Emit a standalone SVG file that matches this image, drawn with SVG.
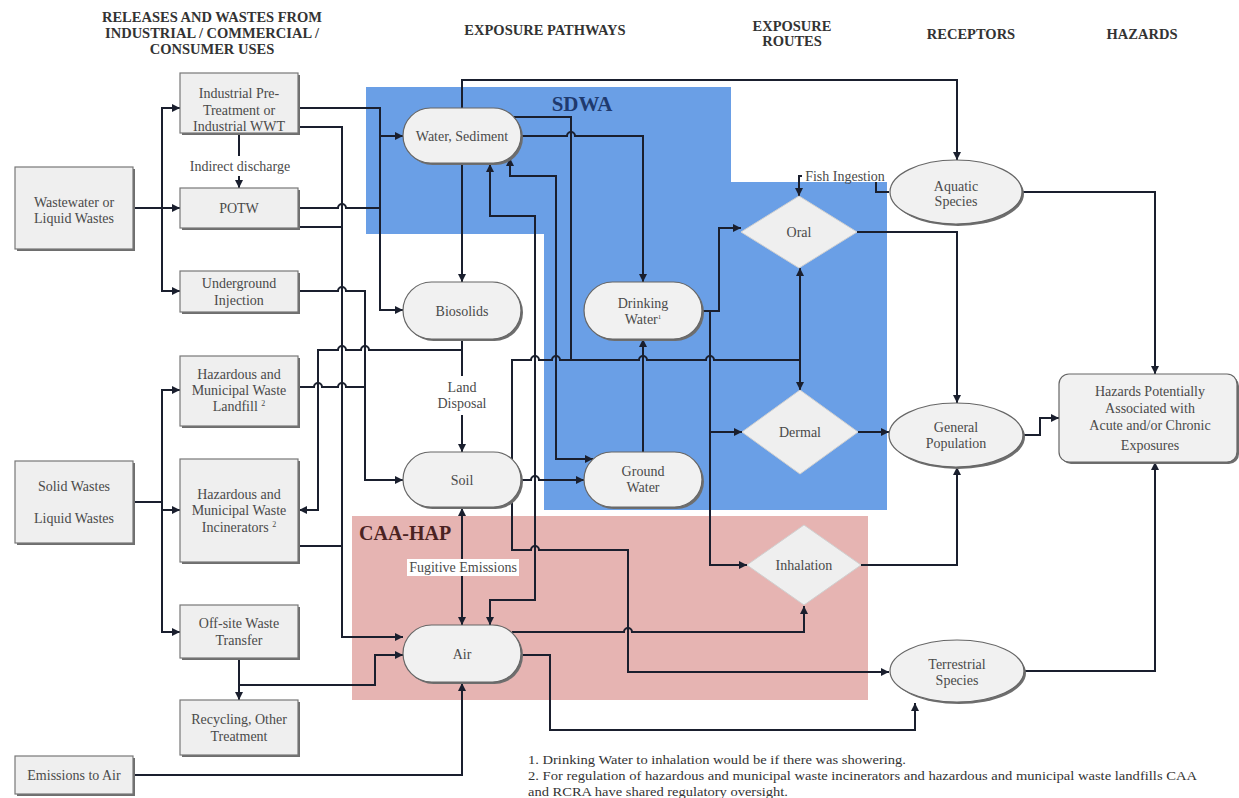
<svg xmlns="http://www.w3.org/2000/svg" width="1239" height="798" viewBox="0 0 1239 798">
<defs>
<marker id="ah" markerWidth="9" markerHeight="9" refX="8" refY="4" orient="auto-start-reverse" markerUnits="userSpaceOnUse"><path d="M0,0 L8,4 L0,8 z" fill="#1a1f2e"/></marker>
<style>
.hd{font-family:"Liberation Serif","Times New Roman",serif;font-weight:bold;font-size:14.5px;fill:#333;text-anchor:middle}
.t{font-family:"Liberation Serif","Times New Roman",serif;font-size:14px;fill:#4a4a4a;text-anchor:middle}
.fn{font-family:"Liberation Serif","Times New Roman",serif;font-size:13px;fill:#333}
.box{fill:#efefef;stroke:#777;stroke-width:1.2}
.sh{fill:#6e6e6e}
.pill{fill:#f1f1f1;stroke:#666;stroke-width:1.2}
.dia{fill:#efefef;stroke:#d0d0d0;stroke-width:1}
.c{fill:none;stroke:#1a1f2e;stroke-width:2}
.ca{fill:none;stroke:#1a1f2e;stroke-width:2;marker-end:url(#ah)}
.cb{fill:none;stroke:#1a1f2e;stroke-width:2;marker-end:url(#ah);marker-start:url(#ah)}
</style>
</defs>
<rect width="1239" height="798" fill="#ffffff"/>

<g id="regions">
<polygon points="366,87 731,87 731,182 887,182 887,510 544,510 544,234 366,234" fill="#6a9fe6"/>
<rect x="352" y="516" width="516" height="184" fill="#e6b4b2"/>
<text x="582" y="111" font-family="Liberation Serif, serif" font-weight="bold" font-size="21" fill="#1f3a6e" text-anchor="middle">SDWA</text>
<text x="359" y="540" font-family="Liberation Serif, serif" font-weight="bold" font-size="20" fill="#4a2222">CAA-HAP</text>
</g>

<g id="headers">
<text class="hd" x="212" y="22">RELEASES AND WASTES FROM</text>
<text class="hd" x="212" y="38">INDUSTRIAL / COMMERCIAL /</text>
<text class="hd" x="212" y="54">CONSUMER USES</text>
<text class="hd" x="545" y="35">EXPOSURE PATHWAYS</text>
<text class="hd" x="792" y="31">EXPOSURE</text>
<text class="hd" x="792" y="46">ROUTES</text>
<text class="hd" x="971" y="39">RECEPTORS</text>
<text class="hd" x="1142" y="39">HAZARDS</text>
</g>

<g id="connectors">
<path class="ca" d="M133,208 H180"/>
<path class="ca" d="M162,208 V108 H180"/>
<path class="ca" d="M162,208 V291 H180"/>
<path class="c" d="M239,133 V156"/>
<path class="ca" d="M239,176 V188"/>
<path class="ca" d="M298,108 H380 V310 H403"/>
<path class="ca" d="M380,136 H403"/>
<path class="c" d="M298,208 H338 a4,4 0 0 1 8,0 H380"/>
<path class="c" d="M298,227 H342"/>
<path class="ca" d="M298,127 H342 V637 H403"/>
<path class="ca" d="M298,291 H338 a4,4 0 0 1 8,0 H365 V480 H403"/>
<path class="c" d="M298,387 H314 a4,4 0 0 1 8,0 H338 a4,4 0 0 1 8,0 H365"/>
<path class="ca" d="M462,350 H369 a4,4 0 0 0 -8,0 H346 a4,4 0 0 0 -8,0 H318 V510 H299"/>
<path class="c" d="M298,546 H342"/>
<path class="c" d="M133,502 H162"/>
<path class="ca" d="M162,510 H180"/>
<path class="ca" d="M162,502 V390 H180"/>
<path class="ca" d="M162,502 V632 H180"/>
<path class="ca" d="M239,658 V700"/>
<path class="ca" d="M239,685 H375 V655 H403"/>
<path class="ca" d="M133,775 H462 V683"/>
<path class="ca" d="M462,108 V80 H957 V160"/>
<path class="ca" d="M462,163 V282"/>
<path class="c" d="M462,339 V376"/>
<path class="ca" d="M462,415 V452"/>
<path class="cb" d="M462,508 V625"/>
<path class="cb" d="M490,164 V216 H535 V600 H490 V625"/>
<path class="cb" d="M510,158 V176 H556 V459 H593"/>
<path class="c" d="M514,117 H571 V360"/>
<path class="ca" d="M521,136 H567 a4,4 0 0 1 8,0 H643 V282"/>
<path class="c" d="M512,459 V360 H531 a4,4 0 0 1 8,0 H552 a4,4 0 0 1 8,0 H639 a4,4 0 0 1 8,0 H706 a4,4 0 0 1 8,0 H800"/>
<path class="ca" d="M800,360 V268"/>
<path class="ca" d="M800,360 V390"/>
<path class="ca" d="M521,480 H531 a4,4 0 0 1 8,0 H584"/>
<path class="ca" d="M512,500 V550 H531 a4,4 0 0 1 8,0 H628 V672 H889"/>
<path class="ca" d="M643,452 V339"/>
<path class="ca" d="M702,311 H719 V228 H741"/>
<path class="ca" d="M710,311 V565 H747"/>
<path class="ca" d="M710,432 H742"/>
<path class="ca" d="M512,632 H624 a4,4 0 0 1 8,0 H804 V606"/>
<path class="ca" d="M520,655 H550 V730 H915 V703"/>
<path class="ca" d="M857,232 H957 V403"/>
<path class="ca" d="M858,432 H889"/>
<path class="ca" d="M861,565 H957 V467"/>
<path class="ca" d="M889,192 H876 V176 H799 V196"/>
<path class="ca" d="M1021,192 H1155 V374"/>
<path class="ca" d="M1023,435 H1040 V418 H1059"/>
<path class="ca" d="M1024,671 H1155 V462"/>
</g>

<g id="n-wastewater"><rect class="sh" x="17" y="169" width="118" height="82"/><rect class="box" x="15" y="167" width="118" height="82"/><text class="t" x="74" y="207">Wastewater or</text><text class="t" x="74" y="223">Liquid Wastes</text></g>
<g id="n-industrial"><rect class="sh" x="182" y="75" width="118" height="60"/><rect class="box" x="180" y="73" width="118" height="60"/><text class="t" x="239" y="98">Industrial Pre-</text><text class="t" x="239" y="115">Treatment or</text><text class="t" x="239" y="131">Industrial WWT</text></g>
<g id="n-indirect"><text class="t" x="240" y="171">Indirect discharge</text></g>
<g id="n-potw"><rect class="sh" x="182" y="190" width="118" height="40"/><rect class="box" x="180" y="188" width="118" height="40"/><text class="t" x="239" y="213">POTW</text></g>
<g id="n-underground"><rect class="sh" x="182" y="273" width="118" height="41"/><rect class="box" x="180" y="271" width="118" height="41"/><text class="t" x="239" y="288">Underground</text><text class="t" x="239" y="305">Injection</text></g>
<g id="n-landfill"><rect class="sh" x="182" y="358" width="118" height="70"/><rect class="box" x="180" y="356" width="118" height="70"/><text class="t" x="239" y="379">Hazardous and</text><text class="t" x="239" y="395">Municipal Waste</text><text class="t" x="239" y="411">Landfill <tspan font-size="8" dy="-5">2</tspan></text></g>
<g id="n-solid"><rect class="sh" x="17" y="463" width="118" height="82"/><rect class="box" x="15" y="461" width="118" height="82"/><text class="t" x="74" y="491">Solid Wastes</text><text class="t" x="74" y="523">Liquid Wastes</text></g>
<g id="n-incinerators"><rect class="sh" x="182" y="461" width="118" height="103"/><rect class="box" x="180" y="459" width="118" height="103"/><text class="t" x="239" y="499">Hazardous and</text><text class="t" x="239" y="515">Municipal Waste</text><text class="t" x="239" y="532">Incinerators <tspan font-size="8" dy="-5">2</tspan></text></g>
<g id="n-offsite"><rect class="sh" x="182" y="607" width="118" height="53"/><rect class="box" x="180" y="605" width="118" height="53"/><text class="t" x="239" y="628">Off-site Waste</text><text class="t" x="239" y="645">Transfer</text></g>
<g id="n-recycling"><rect class="sh" x="182" y="702" width="118" height="55"/><rect class="box" x="180" y="700" width="118" height="55"/><text class="t" x="239" y="724">Recycling, Other</text><text class="t" x="239" y="741">Treatment</text></g>
<g id="n-emissions"><rect class="sh" x="17" y="758" width="118" height="38"/><rect class="box" x="15" y="756" width="118" height="38"/><text class="t" x="74" y="780">Emissions to Air</text></g>

<g id="n-water"><rect class="sh" x="405" y="110" width="118" height="55" rx="27.5"/><rect class="pill" x="403" y="108" width="118" height="55" rx="27.5"/><text class="t" x="462" y="141">Water, Sediment</text></g>
<g id="n-biosolids"><rect class="sh" x="405" y="284" width="118" height="57" rx="28.5"/><rect class="pill" x="403" y="282" width="118" height="57" rx="28.5"/><text class="t" x="462" y="316">Biosolids</text></g>
<g id="n-landdisposal"><text class="t" x="462" y="392">Land</text><text class="t" x="462" y="408">Disposal</text></g>
<g id="n-soil"><rect class="sh" x="405" y="454" width="118" height="55" rx="27.5"/><rect class="pill" x="403" y="452" width="118" height="55" rx="27.5"/><text class="t" x="462" y="485">Soil</text></g>
<g id="n-fugitive"><rect x="407" y="559" width="112" height="17" fill="#ffffff"/><text class="t" x="463" y="572">Fugitive Emissions</text></g>
<g id="n-air"><rect class="sh" x="405" y="627" width="118" height="57" rx="28.5"/><rect class="pill" x="403" y="625" width="118" height="57" rx="28.5"/><text class="t" x="462" y="659">Air</text></g>
<g id="n-drinking"><rect class="sh" x="586" y="284" width="118" height="57" rx="28.5"/><rect class="pill" x="584" y="282" width="118" height="57" rx="28.5"/><text class="t" x="643" y="308">Drinking</text><text class="t" x="643" y="324">Water<tspan font-size="7" dy="-5">1</tspan></text></g>
<g id="n-ground"><rect class="sh" x="586" y="454" width="118" height="55" rx="27.5"/><rect class="pill" x="584" y="452" width="118" height="55" rx="27.5"/><text class="t" x="643" y="476">Ground</text><text class="t" x="643" y="492">Water</text></g>

<g id="n-oral"><polygon class="dia" points="799,196 857,232 799,268 741,232"/><text class="t" x="799" y="237">Oral</text></g>
<g id="n-dermal"><polygon class="dia" points="800,390 858,432 800,474 742,432"/><text class="t" x="800" y="437">Dermal</text></g>
<g id="n-inhalation"><polygon class="dia" points="804,525 861,565 804,605 747,565"/><text class="t" x="804" y="570">Inhalation</text></g>
<g id="n-fish"><rect x="802" y="168" width="86" height="14" fill="#ffffff"/><text class="t" x="845" y="181">Fish Ingestion</text></g>

<g id="n-aquatic"><ellipse cx="958" cy="194" rx="66" ry="32" fill="#6e6e6e"/><ellipse cx="956" cy="192" rx="66" ry="32" class="pill"/><text class="t" x="956" y="191">Aquatic</text><text class="t" x="956" y="206">Species</text></g>
<g id="n-general"><ellipse cx="958" cy="437" rx="67" ry="32" fill="#6e6e6e"/><ellipse cx="956" cy="435" rx="67" ry="32" class="pill"/><text class="t" x="956" y="432">General</text><text class="t" x="956" y="448">Population</text></g>
<g id="n-terrestrial"><ellipse cx="959" cy="673" rx="67" ry="31" fill="#6e6e6e"/><ellipse cx="957" cy="671" rx="67" ry="31" class="pill"/><text class="t" x="957" y="669">Terrestrial</text><text class="t" x="957" y="685">Species</text></g>
<g id="n-hazards"><rect x="1061" y="376" width="178" height="88" rx="10" fill="#6e6e6e"/><rect class="pill" x="1059" y="374" width="178" height="88" rx="10"/><text class="t" x="1150" y="396">Hazards Potentially</text><text class="t" x="1150" y="413">Associated with</text><text class="t" x="1150" y="430">Acute and/or Chronic</text><text class="t" x="1150" y="450">Exposures</text></g>

<g id="footnotes">
<text class="fn" x="528" y="764" textLength="378" lengthAdjust="spacingAndGlyphs">1. Drinking Water to inhalation would be if there was showering.</text>
<text class="fn" x="528" y="780" textLength="669" lengthAdjust="spacingAndGlyphs">2. For regulation of hazardous and municipal waste incinerators and hazardous and municipal waste landfills CAA</text>
<text class="fn" x="528" y="796" textLength="260" lengthAdjust="spacingAndGlyphs">and RCRA have shared regulatory oversight.</text>
</g>
</svg>
